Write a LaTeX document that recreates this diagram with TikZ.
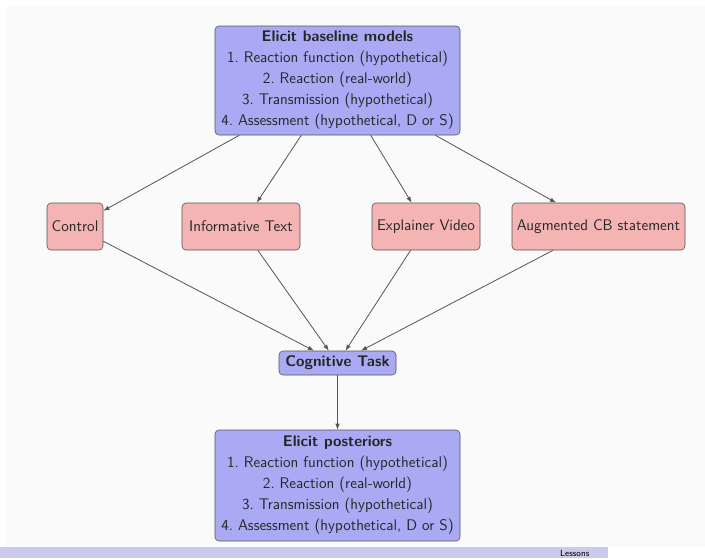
\documentclass[tikz,border=0pt]{standalone}
\usetikzlibrary{arrows.meta}
\definecolor{bgray}{HTML}{FAFAFA}
\definecolor{bluefill}{HTML}{AAAAF4}
\definecolor{redfill}{HTML}{F4B4B4}
\definecolor{barcol}{HTML}{CACAEB}
\definecolor{txt}{HTML}{262626}
\definecolor{edgecol}{HTML}{555555}
\begin{document}
\begin{tikzpicture}[x=1pt,y=-1pt,
  every node/.style={font=\sffamily\fontsize{15.4}{21}\selectfont, text=txt},
  bluebox/.style={draw=edgecol, fill=bluefill, rounded corners=4pt, align=center, inner sep=0pt, line width=0.6pt},
  redbox/.style={draw=edgecol, fill=redfill, rounded corners=4pt, align=center, inner sep=0pt, minimum height=47pt, line width=0.6pt},
  conn/.style={draw=edgecol, line width=0.8pt, -{Latex[length=6pt,width=4.5pt]}}]
\useasboundingbox (0,0) rectangle (705,558);
\fill[white] (0,0) rectangle (705,558);
\fill[bgray] (6,6) rectangle (705,547);
\node[bluebox, minimum width=245pt, minimum height=109pt] (base) at (337.5,80.5)
  {\textbf{Elicit baseline models}\\1.~Reaction function (hypothetical)\\2.~Reaction (real-world)\\3.~Transmission (hypothetical)\\4.~Assessment (hypothetical, D or S)};
\node[redbox, minimum width=56pt] (ctrl) at (75,226.5) {Control};
\node[redbox, minimum width=118pt] (info) at (241,226.5) {Informative Text};
\node[redbox, minimum width=108pt] (video) at (426,226.5) {Explainer Video};
\node[redbox, minimum width=173pt] (aug) at (598.5,226.5) {Augmented CB statement};
\node[bluebox, minimum width=117pt, minimum height=24pt] (cog) at (337.5,363) {\textbf{Cognitive Task}};
\node[bluebox, minimum width=245pt, minimum height=111pt] (post) at (337.5,485.5)
  {\textbf{Elicit posteriors}\\1.~Reaction function (hypothetical)\\2.~Reaction (real-world)\\3.~Transmission (hypothetical)\\4.~Assessment (hypothetical, D or S)};
\draw[conn] (base) -- (ctrl);
\draw[conn] (base) -- (info);
\draw[conn] (base) -- (video);
\draw[conn] (base) -- (aug);
\draw[conn] (ctrl) -- (cog);
\draw[conn] (info) -- (cog);
\draw[conn] (video) -- (cog);
\draw[conn] (aug) -- (cog);
\draw[conn] (cog) -- (post);
\fill[barcol] (0,547) rectangle (608,558);
\node[anchor=base west, inner sep=0pt, font=\sffamily\fontsize{9}{10}\selectfont, text=black] (lessons) at (560,556) {Lessons};
\end{tikzpicture}
\end{document}
